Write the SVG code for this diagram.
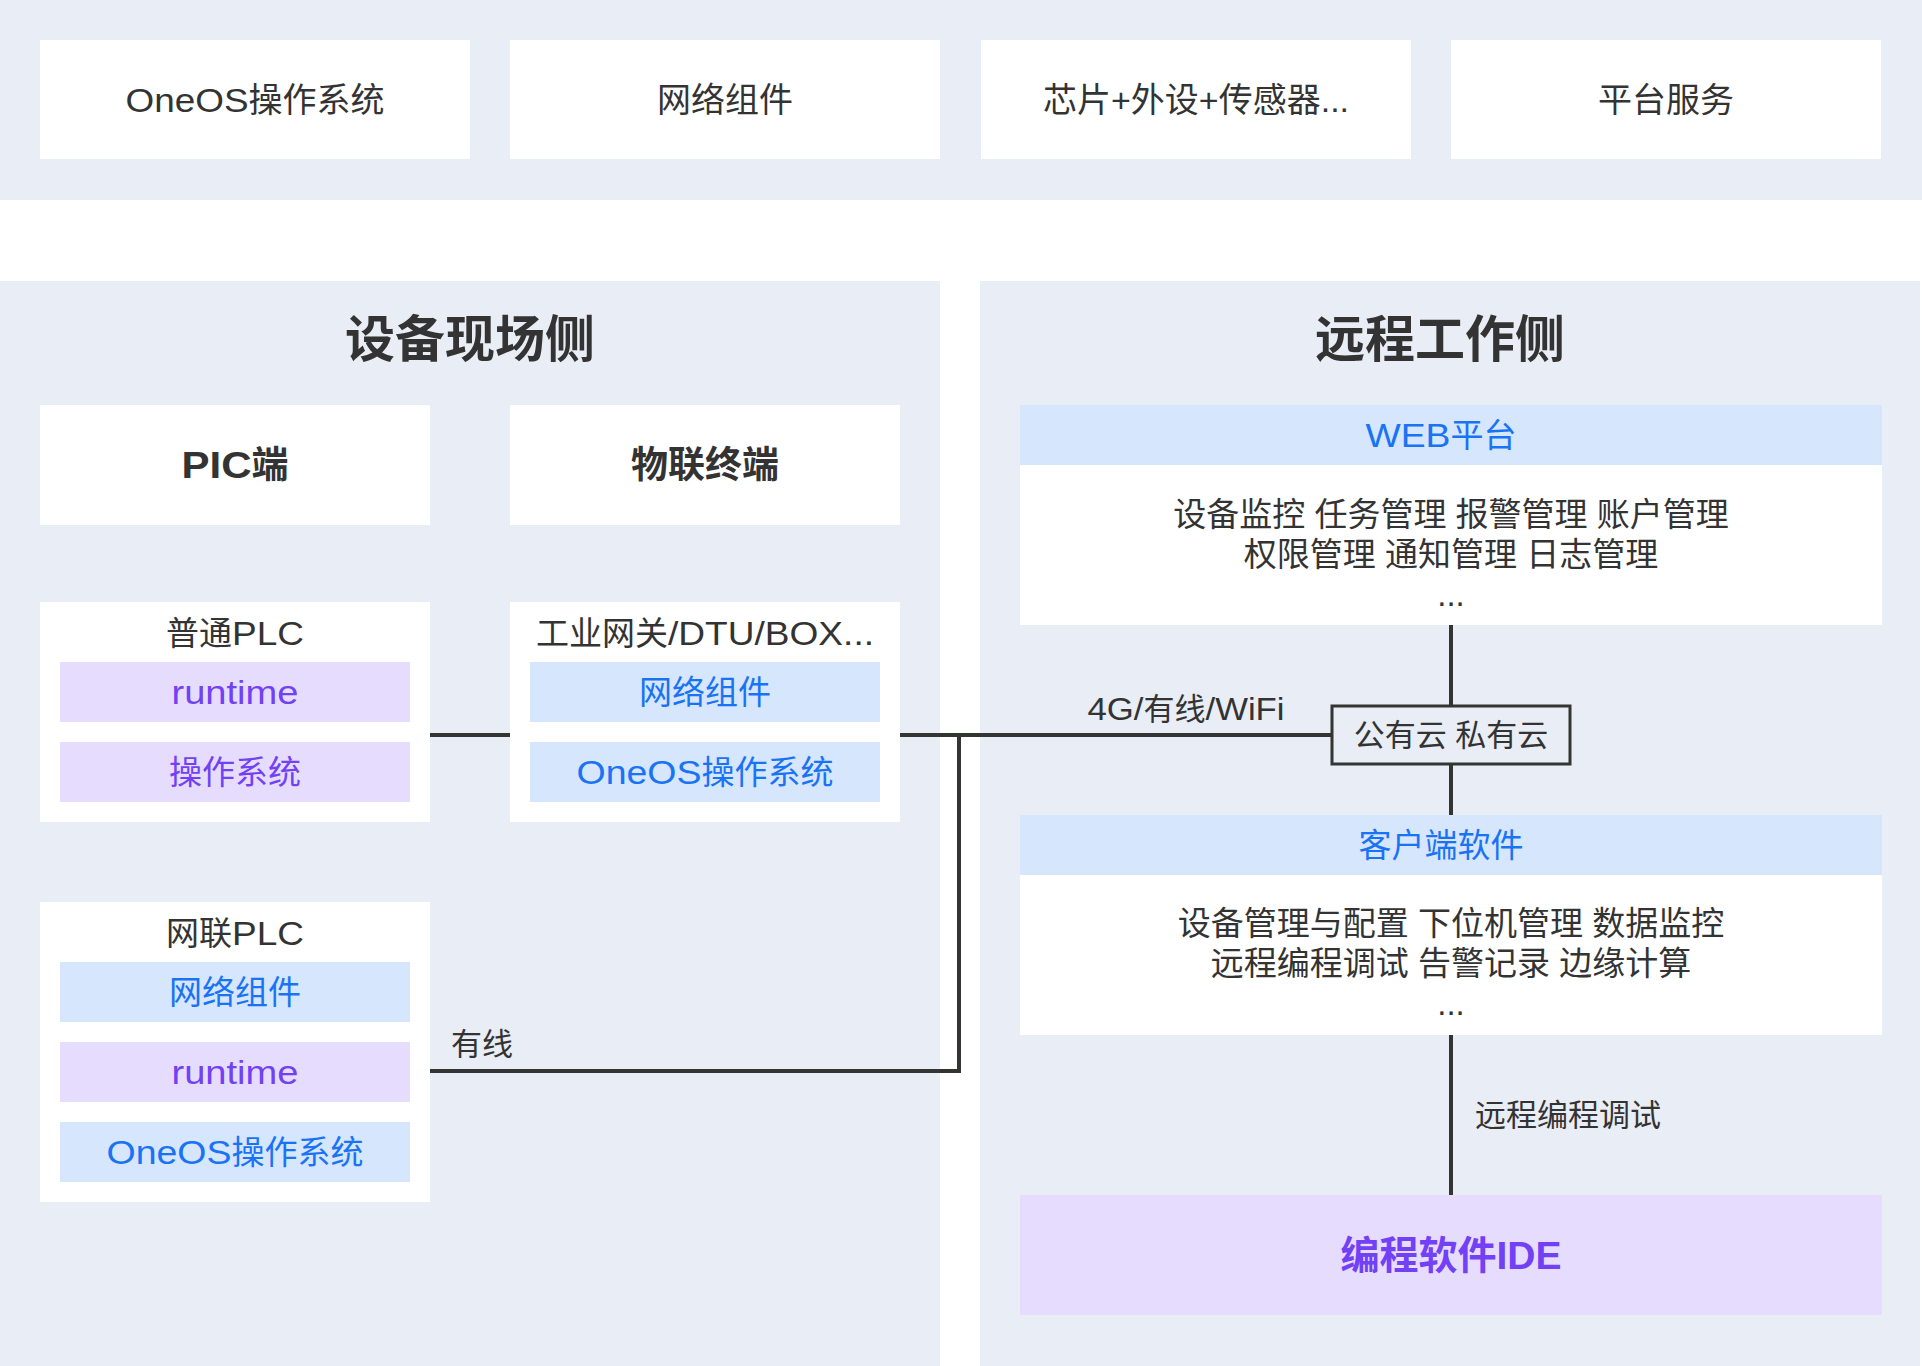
<svg xmlns="http://www.w3.org/2000/svg" width="1922" height="1366" viewBox="0 0 1922 1366">
<style>
text{font-family:"Liberation Sans","Noto Sans CJK SC",sans-serif;fill:#333333;text-anchor:middle;dominant-baseline:central}
.panel{fill:#E9EDF5}
.box{fill:#FFFFFF}
.blue{fill:#D5E6FD}
.lav{fill:#E6DCFD}
.tb{fill:#1A73F5}
.tp{fill:#7240F5}
.t34{font-size:34px}
.t33{font-size:33px}
.t31{font-size:31px}
.bold{font-weight:bold}
.line{stroke:#333533;stroke-width:4;fill:none}
</style>
<rect x="0" y="0" width="1922" height="1366" fill="#FFFFFF"/>
<rect class="panel" x="0" y="0" width="1922" height="200"/>
<rect class="panel" x="0" y="281" width="940" height="1085"/>
<rect class="panel" x="980" y="281" width="940" height="1085"/>

<g id="top-oneos"><rect class="box" x="40" y="40" width="430" height="119"/><text class="t34" x="255" y="100"><tspan textLength="123" lengthAdjust="spacingAndGlyphs">OneOS</tspan>操作系统</text></g>
<g id="top-network"><rect class="box" x="510" y="40" width="430" height="119"/><text class="t34" x="725" y="100">网络组件</text></g>
<g id="top-chip"><rect class="box" x="981" y="40" width="430" height="119"/><text class="t34" x="1196" y="100">芯片+外设+传感器...</text></g>
<g id="top-platform"><rect class="box" x="1451" y="40" width="430" height="119"/><text class="t34" x="1666" y="100">平台服务</text></g>

<g id="title-left"><text class="bold" font-size="50" x="470" y="340">设备现场侧</text></g>
<g id="title-right"><text class="bold" font-size="50" x="1440" y="340">远程工作侧</text></g>

<g id="pic"><rect class="box" x="40" y="405" width="390" height="120"/><text class="bold" font-size="37" x="235" y="465"><tspan textLength="70" lengthAdjust="spacingAndGlyphs">PIC</tspan>端</text></g>
<g id="iot"><rect class="box" x="510" y="405" width="390" height="120"/><text class="bold" font-size="37" x="705" y="465">物联终端</text></g>

<g id="plc-normal">
<rect class="box" x="40" y="602" width="390" height="220"/>
<text class="t33" x="235" y="633">普通<tspan textLength="72" lengthAdjust="spacingAndGlyphs">PLC</tspan></text>
<rect class="lav" x="60" y="662" width="350" height="60"/><text class="t33 tp" x="235" y="692" textLength="127" lengthAdjust="spacingAndGlyphs">runtime</text>
<rect class="lav" x="60" y="742" width="350" height="60"/><text class="t33 tp" x="235" y="772">操作系统</text>
</g>

<g id="gateway">
<rect class="box" x="510" y="602" width="390" height="220"/>
<text class="t33" x="705" y="633">工业网关<tspan textLength="206" lengthAdjust="spacingAndGlyphs">/DTU/BOX...</tspan></text>
<rect class="blue" x="530" y="662" width="350" height="60"/><text class="t33 tb" x="705" y="692">网络组件</text>
<rect class="blue" x="530" y="742" width="350" height="60"/><text class="t33 tb" x="705" y="772"><tspan textLength="125" lengthAdjust="spacingAndGlyphs">OneOS</tspan>操作系统</text>
</g>

<g id="plc-net">
<rect class="box" x="40" y="902" width="390" height="300"/>
<text class="t33" x="235" y="933">网联<tspan textLength="72" lengthAdjust="spacingAndGlyphs">PLC</tspan></text>
<rect class="blue" x="60" y="962" width="350" height="60"/><text class="t33 tb" x="235" y="992">网络组件</text>
<rect class="lav" x="60" y="1042" width="350" height="60"/><text class="t33 tp" x="235" y="1072" textLength="127" lengthAdjust="spacingAndGlyphs">runtime</text>
<rect class="blue" x="60" y="1122" width="350" height="60"/><text class="t33 tb" x="235" y="1152"><tspan textLength="125" lengthAdjust="spacingAndGlyphs">OneOS</tspan>操作系统</text>
</g>

<g id="web">
<rect class="box" x="1020" y="405" width="862" height="220"/>
<rect class="blue" x="1020" y="405" width="862" height="60"/>
<text class="t33 tb" x="1441" y="435"><tspan textLength="85" lengthAdjust="spacingAndGlyphs">WEB</tspan>平台</text>
<text class="t33" x="1451" y="514">设备监控 任务管理 报警管理 账户管理</text>
<text class="t33" x="1451" y="554">权限管理 通知管理 日志管理</text>
<text class="t33" x="1451" y="594">...</text>
</g>

<g id="cloud">
<rect x="1332" y="706" width="238" height="58" fill="#E9EDF5" stroke="#333533" stroke-width="3"/>
<text class="t31" x="1451" y="735">公有云 私有云</text>
</g>

<g id="client">
<rect class="box" x="1020" y="815" width="862" height="220"/>
<rect class="blue" x="1020" y="815" width="862" height="60"/>
<text class="t33 tb" x="1441" y="845">客户端软件</text>
<text class="t33" x="1451" y="923">设备管理与配置 下位机管理 数据监控</text>
<text class="t33" x="1451" y="963">远程编程调试 告警记录 边缘计算</text>
<text class="t33" x="1451" y="1003">...</text>
</g>

<g id="ide">
<rect class="lav" x="1020" y="1195" width="862" height="120"/>
<text class="bold tp" font-size="39" x="1451" y="1255">编程软件IDE</text>
</g>

<g id="connectors">
<line class="line" x1="430" y1="735" x2="510" y2="735"/>
<line class="line" x1="900" y1="735" x2="1332" y2="735"/>
<polyline class="line" points="959,735 959,1071 430,1071"/>
<line class="line" x1="1451" y1="625" x2="1451" y2="706"/>
<line class="line" x1="1451" y1="764" x2="1451" y2="815"/>
<line class="line" x1="1451" y1="1035" x2="1451" y2="1195"/>
<text class="t31" x="482" y="1044">有线</text>
<text class="t31" x="1186" y="709"><tspan textLength="56" lengthAdjust="spacingAndGlyphs">4G/</tspan>有线<tspan textLength="79" lengthAdjust="spacingAndGlyphs">/WiFi</tspan></text>
<text class="t31" x="1568" y="1115">远程编程调试</text>
</g>
</svg>
